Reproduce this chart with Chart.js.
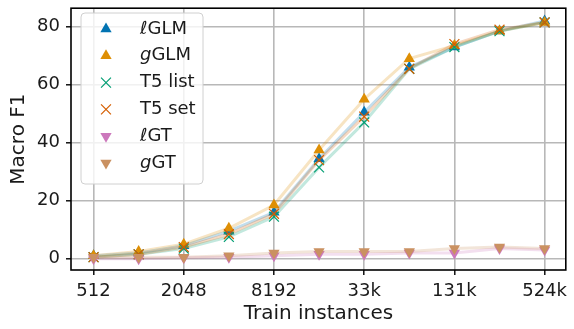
<!DOCTYPE html>
<html>
<head>
<meta charset="utf-8">
<script src="https://cdn.jsdelivr.net/npm/chart.js@4/dist/chart.umd.min.js"></script>
<style>
  html, body { margin: 0; padding: 0; background: #fff; }
  #wrap { width: 574px; height: 329px; }
</style>
</head>
<body>
<div id="wrap"><canvas id="f1Chart" width="574" height="329"></canvas></div>
<script>
// training set sizes (x) and the tick labels shown on the axis
const trainSizes = [512, 1024, 2048, 4096, 8192, 16384, 32768, 65536, 131072, 262144, 524288];
const tickLabels = {9: '512', 11: '2048', 13: '8192', 15: '33k', 17: '131k', 19: '524k'};

// macro F1 per series
const lGLM   = [1.0, 2.0, 4.5, 9.5, 16.0, 34.5, 50.5, 66.0, 73.0, 78.5, 82.0];
const gGLM   = [1.0, 2.5, 5.0, 10.5, 18.5, 37.5, 55.0, 69.0, 73.5, 78.5, 81.5];
const t5List = [0.5, 1.5, 3.5, 7.5, 14.5, 31.5, 47.0, 65.5, 73.0, 78.5, 81.5];
const t5Set  = [0.5, 1.5, 4.0, 8.5, 15.5, 34.0, 49.0, 65.5, 74.0, 79.0, 81.5];
const lGT    = [0.0, 0.0, 0.3, 0.5, 1.0, 1.5, 1.5, 2.0, 2.0, 3.5, 3.0];
const gGT    = [0.5, 0.5, 0.5, 1.0, 2.0, 2.5, 2.5, 2.5, 3.5, 4.0, 3.5];

const series = [
    {pre: 'ℓ', name: 'GLM', data: lGLM, color: '#0173b2', rgb: '1,115,178', style: 'triangle', rot: 0},
    {pre: 'g', name: 'GLM', data: gGLM, color: '#de8f05', rgb: '222,143,5', style: 'triangle', rot: 0},
    {pre: '', name: 'T5 list', data: t5List, color: '#029e73', rgb: '2,158,115', style: 'crossRot', rot: 0},
    {pre: '', name: 'T5 set', data: t5Set, color: '#d55e00', rgb: '213,94,0', style: 'crossRot', rot: 0},
    {pre: 'ℓ', name: 'GT', data: lGT, color: '#cc78bc', rgb: '204,120,188', style: 'triangle', rot: 180},
    {pre: 'g', name: 'GT', data: gGT, color: '#ca9161', rgb: '202,145,97', style: 'triangle', rot: 180}
];

const FONT = 'DejaVu Sans';

function drawMarker(ctx, s, x, y) {
    ctx.save();
    ctx.translate(x, y);
    if (s.style === 'crossRot') {
        const r = 7 * Math.SQRT1_2;
        ctx.strokeStyle = s.color;
        ctx.lineWidth = 1.2;
        ctx.beginPath();
        ctx.moveTo(-r, -r); ctx.lineTo(r, r);
        ctx.moveTo(-r, r); ctx.lineTo(r, -r);
        ctx.stroke();
    } else {
        ctx.rotate(s.rot * Math.PI / 180);
        const r = 6.5;
        ctx.fillStyle = s.color;
        ctx.beginPath();
        ctx.moveTo(0, -r);
        ctx.lineTo(r * Math.sin(2 * Math.PI / 3), -r * Math.cos(2 * Math.PI / 3));
        ctx.lineTo(-r * Math.sin(2 * Math.PI / 3), -r * Math.cos(2 * Math.PI / 3));
        ctx.closePath();
        ctx.fill();
    }
    ctx.restore();
}

const frameAndLegend = {
    id: 'frameAndLegend',
    afterDatasetsDraw(chart) {
        const ctx = chart.ctx;
        const a = chart.chartArea;
        ctx.save();
        ctx.strokeStyle = '#000';
        ctx.lineWidth = 1.6;
        ctx.strokeRect(a.left, a.top, a.right - a.left, a.bottom - a.top);

        // legend box
        const bx = 81, by = 13, bw = 122, bh = 171, br = 4;
        ctx.beginPath();
        ctx.roundRect(bx, by, bw, bh, br);
        ctx.fillStyle = 'rgba(255,255,255,0.8)';
        ctx.fill();
        ctx.strokeStyle = '#d0d0d0';
        ctx.lineWidth = 1;
        ctx.stroke();

        ctx.textBaseline = 'middle';
        series.forEach((s, i) => {
            const cy = 29 + i * 26.8;
            drawMarker(ctx, s, 106, cy);
            let tx = 140;
            ctx.fillStyle = '#1a1a1a';
            if (s.pre) {
                ctx.font = 'italic 18px "' + FONT + '"';
                ctx.fillText(s.pre, tx, cy);
                tx += ctx.measureText(s.pre).width;
            }
            ctx.font = '18px "' + FONT + '"';
            ctx.fillText(s.name, tx, cy);
        });
        ctx.restore();
    }
};

const ctx = document.getElementById('f1Chart').getContext('2d');
new Chart(ctx, {
    type: 'line',
    data: {
        datasets: series.map((s, i) => ({
            label: s.pre + s.name,
            data: s.data.map((v, j) => ({x: Math.log2(trainSizes[j]), y: v})),
            borderColor: 'rgba(' + s.rgb + ',0.24)',
            borderWidth: 3,
            pointStyle: s.style,
            pointRotation: s.rot,
            pointRadius: s.style === 'crossRot' ? 7 : 6.5,
            pointBackgroundColor: s.color,
            pointBorderColor: s.color,
            pointBorderWidth: s.style === 'crossRot' ? 1.2 : 0,
            tension: 0,
            order: 10 - i
        }))
    },
    options: {
        responsive: false,
        animation: false,
        layout: {padding: {top: 4, right: 3, left: 0, bottom: 0}},
        plugins: {legend: {display: false}, tooltip: {enabled: false}},
        scales: {
            x: {
                type: 'linear',
                min: 8.5,
                max: 19.47,
                afterBuildTicks: (axis) => {
                    axis.ticks = Object.keys(tickLabels).map(k => ({value: Number(k)}));
                },
                afterFit: (axis) => {
                    axis.height = 59;
                    axis.paddingLeft = 0;
                    axis.paddingRight = 0;
                },
                ticks: {
                    callback: (v) => tickLabels[v] || '',
                    color: '#1a1a1a',
                    font: {family: FONT, size: 18},
                    padding: 6,
                    maxRotation: 0,
                    autoSkip: false
                },
                grid: {color: '#b8b8b8', lineWidth: 1.6, tickColor: '#000', tickLength: 5, tickWidth: 1.4},
                border: {display: false},
                title: {
                    display: true,
                    text: 'Train instances',
                    color: '#1a1a1a',
                    font: {family: FONT, size: 20},
                    padding: {top: 0, bottom: 3}
                }
            },
            y: {
                min: -3.9,
                max: 86.4,
                afterBuildTicks: (axis) => {
                    axis.ticks = [0, 20, 40, 60, 80].map(v => ({value: v}));
                },
                afterFit: (axis) => {
                    axis.width = 71;
                    axis.paddingTop = 0;
                    axis.paddingBottom = 0;
                },
                ticks: {
                    color: '#1a1a1a',
                    font: {family: FONT, size: 18},
                    padding: 6
                },
                grid: {color: '#b8b8b8', lineWidth: 1.6, tickColor: '#000', tickLength: 5, tickWidth: 1.4},
                border: {display: false},
                title: {
                    display: true,
                    text: 'Macro F1',
                    color: '#1a1a1a',
                    font: {family: FONT, size: 20},
                    padding: {top: 7, bottom: 0}
                }
            }
        }
    },
    plugins: [frameAndLegend]
});
</script>
</body>
</html>
